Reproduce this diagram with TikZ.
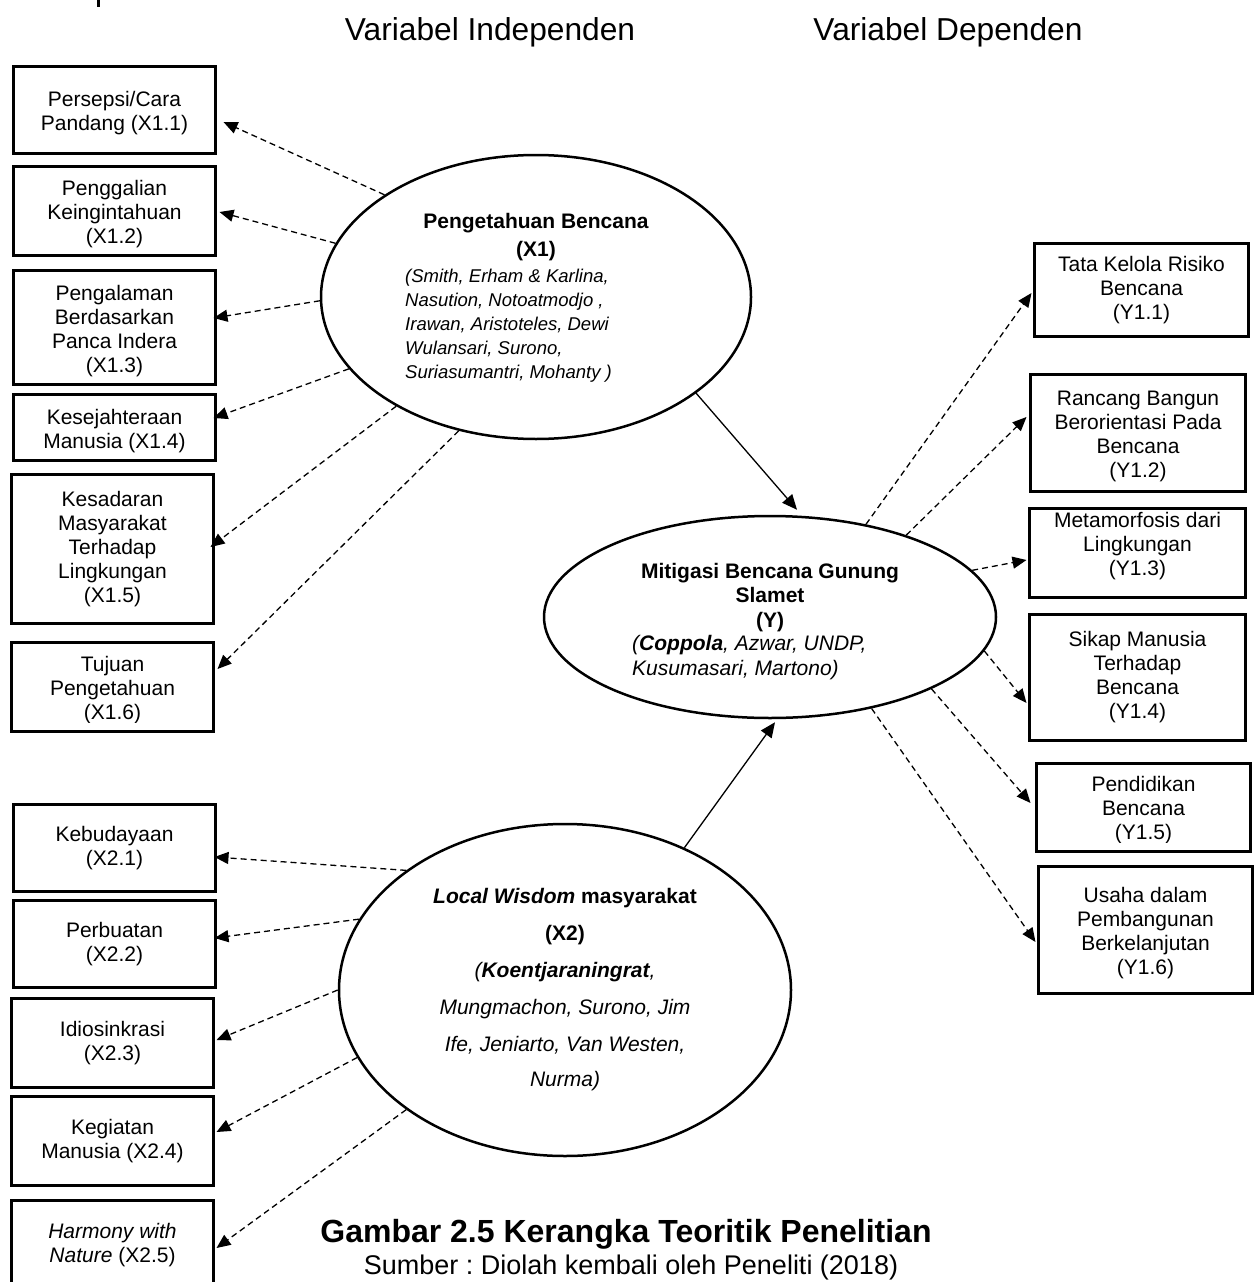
\documentclass[tikz,border=0pt]{standalone}
\usepackage{fontspec}
\setmainfont{Liberation Sans}
\usetikzlibrary{arrows.meta,shapes.geometric}
\frenchspacing
% taller first line, so box text sits a little lower in its frame
\newcommand\boxlift{\rule{0pt}{22pt}}

\begin{document}
\begin{tikzpicture}[x=1pt,y=-1pt,
  box/.style={draw, line width=3pt, inner sep=0pt, align=center,
    font=\fontsize{21}{24}\selectfont},
  boxtext/.style={inner sep=0pt, align=center, font=\fontsize{21}{24}\selectfont},
  latent/.style={draw, ellipse, line width=2.5pt, inner sep=0pt},
  ltitle/.style={inner sep=0pt, anchor=base, font=\fontsize{21}{24}\selectfont\bfseries},
  lref/.style={inner sep=0pt, anchor=base west, font=\fontsize{21}{24}\selectfont\itshape},
  lrefc/.style={inner sep=0pt, anchor=base, font=\fontsize{21}{24}\selectfont\itshape},
  heading/.style={inner sep=0pt, anchor=base, font=\fontsize{31.7}{36}\selectfont},
  link/.style={line width=1.3pt, dash pattern=on 6pt off 4pt,
    -{Triangle[length=14pt,width=12pt]}},
  causal/.style={line width=1.3pt, -{Triangle[length=15pt,width=13pt]}}]

\useasboundingbox (0,0) rectangle (1257,1282);

% stroke of a letter from a line above the frame
\fill (96.5,0) rectangle (99.5,7);

% column headings
\node[heading] (hind) at (490,40) {Variabel Independen};
\node[heading] (hdep) at (948,40) {Variabel Dependen};

% ---------- latent variables ----------
\node[latent, minimum width=430pt, minimum height=284pt] (x1) at (536,297) {};
\node[latent, minimum width=452pt, minimum height=202pt] (y) at (770,617) {};
\node[latent, minimum width=452pt, minimum height=332pt] (x2) at (565,990) {};

% text of X1
\node[ltitle] (x1a) at (536,228) {Pengetahuan Bencana};
\node[ltitle] (x1b) at (536,256) {(X1)};
\begin{scope}[every node/.style={lref, font=\fontsize{18.5}{24}\selectfont\itshape}]
\node (x1c) at (405,282) {(Smith, Erham \& Karlina,};
\node (x1d) at (405,306) {Nasution, Notoatmodjo ,};
\node (x1e) at (405,330) {Irawan, Aristoteles, Dewi};
\node (x1f) at (405,354) {Wulansari, Surono,};
\node (x1g) at (405,378) {Suriasumantri, Mohanty )};
\end{scope}

% text of Y
\node[ltitle] (ya) at (770,578) {Mitigasi Bencana Gunung};
\node[ltitle] (yb) at (770,602) {Slamet};
\node[ltitle] (yc) at (770,627) {(Y)};
\node[lref] (yd) at (632,650) {(\textbf{Coppola}, Azwar, UNDP,};
\node[lref] (ye) at (632,675) {Kusumasari, Martono)};

% text of X2
\node[ltitle] (x2a) at (565,903) {\textit{Local Wisdom} masyarakat};
\node[ltitle] (x2b) at (565,940.5) {(X2)};
\node[lrefc] (x2c) at (565,977.5) {(\textbf{Koentjaraningrat},};
\node[lrefc] (x2d) at (565,1014.3) {Mungmachon, Surono, Jim};
\node[lrefc] (x2e) at (565,1051) {Ife, Jeniarto, Van Westen,};
\node[lrefc] (x2f) at (565,1086.7) {Nurma)};

% ---------- indicators of X1 ----------
\node[box, minimum width=202pt, minimum height=87pt] (x11) at (114.5,110) {\boxlift Persepsi/Cara\\Pandang (X1.1)};
\node[box, minimum width=202pt, minimum height=89pt] (x12) at (114.5,211) {\boxlift Penggalian\\Keingintahuan\\(X1.2)};
\node[box, minimum width=202pt, minimum height=114pt] (x13) at (114.5,327.5) {\boxlift Pengalaman\\Berdasarkan\\Panca Indera\\(X1.3)};
\node[box, minimum width=202pt, minimum height=66pt] (x14) at (114.5,427.5) {\boxlift Kesejahteraan\\Manusia (X1.4)};
\node[box, minimum width=202pt, minimum height=149pt] (x15) at (112.5,549) {Kesadaran\\Masyarakat\\Terhadap\\Lingkungan\\(X1.5)};
\node[box, minimum width=202pt, minimum height=89pt] (x16) at (112.5,687) {};
\begin{scope}
  \clip (x16.north west) rectangle ([yshift=11pt]x16.south east);
  \node[boxtext] (x16t) at (112.5,690) {Tujuan\\Pengetahuan\\(X1.6)};
\end{scope}

% ---------- indicators of X2 ----------
\node[box, minimum width=202pt, minimum height=87pt] (x21) at (114.5,848) {Kebudayaan\\(X2.1)};
\node[box, minimum width=202pt, minimum height=87pt] (x22) at (114.5,944) {Perbuatan\\(X2.2)};
\node[box, minimum width=202pt, minimum height=89pt] (x23) at (112.5,1043) {Idiosinkrasi\\(X2.3)};
\node[box, minimum width=202pt, minimum height=89pt] (x24) at (112.5,1141) {Kegiatan\\Manusia (X2.4)};
\node[box, minimum width=202pt, minimum height=89.5pt] (x25) at (112.5,1245) {\textit{Harmony with}\\\textit{Nature} (X2.5)};

% ---------- indicators of Y ----------
\node[box, minimum width=214pt, minimum height=93pt] (y11) at (1141.5,290) {Tata Kelola Risiko\\Bencana\\(Y1.1)};
\node[box, minimum width=215pt, minimum height=117pt] (y12) at (1138,433) {\boxlift Rancang Bangun\\Berorientasi Pada\\Bencana\\(Y1.2)};
\node[box, minimum width=216pt, minimum height=89pt] (y13) at (1137.5,553) {};
\begin{scope}
  \clip (y13.north west) rectangle ([yshift=11pt]y13.south east);
  \node[boxtext] (y13t) at (1137.5,546) {Metamorfosis dari\\Lingkungan\\(Y1.3)};
\end{scope}
\node[box, minimum width=216pt, minimum height=126pt] (y14) at (1137.5,677.5) {Sikap Manusia\\Terhadap\\Bencana\\(Y1.4)};
\node[box, minimum width=214pt, minimum height=88pt] (y15) at (1143.5,807.5) {};
\begin{scope}
  \clip (y15.north west) rectangle ([yshift=11pt]y15.south east);
  \node[boxtext] (y15t) at (1143.5,810) {Pendidikan\\Bencana\\(Y1.5)};
\end{scope}
\node[box, minimum width=214pt, minimum height=127pt] (y16) at (1145.5,930) {\boxlift Usaha dalam\\Pembangunan\\Berkelanjutan\\(Y1.6)};

% ---------- connectors ----------
\draw[link] (x1.146.3) -- ([xshift=6.5pt,yshift=-12pt]x11.east);
\draw[link] (x1.165.4) -- ([xshift=2.5pt,yshift=-1pt]x12.east);
\draw[link] (x1.181.6) -- ([xshift=-3.5pt,yshift=9.5pt]x13.east);
\draw[link] (x1.201.8) -- ([xshift=-3.5pt,yshift=9.5pt]x14.east);
\draw[link] (x1.218) -- ([xshift=-4.5pt,yshift=2pt]x15.east);
\draw[link] (x1.240.4) -- ([xshift=2.5pt,yshift=18pt]x16.east);

\draw[link] (x2.143.9) -- ([xshift=-2.5pt,yshift=-9pt]x21.east);
\draw[link] (x2.161.7) -- ([xshift=-2.5pt,yshift=6pt]x22.east);
\draw[link] (x2.180.5) -- ([xshift=1.5pt,yshift=3pt]x23.east);
\draw[link] (x2.198.9) -- ([xshift=1.5pt,yshift=9pt]x24.east);
\draw[link] (x2.217.3) -- ([xshift=1.5pt,yshift=-3pt]x25.east);

\draw[link] (y.44.1) -- ([xshift=-1.5pt,yshift=-3pt]y11.west);
\draw[link] (y.31) -- ([xshift=-2.5pt,yshift=16pt]y12.west);
\draw[link] (y.13.1) -- ([xshift=-1.5pt,yshift=-7pt]y13.west);
\draw[link] (y.351.4) -- ([xshift=-1.5pt,yshift=-25.5pt]y14.west);
\draw[link] (y.336.1) -- ([xshift=-4.5pt,yshift=4.5pt]y15.west);
\draw[link] (y.318) -- ([xshift=-1.5pt,yshift=-12pt]y16.west);

\draw[causal] (x1.329.2) -- ([xshift=27pt,yshift=5pt]y.north);
\draw[causal] (x2.50.8) -- ([xshift=5pt,yshift=-3pt]y.south);

% ---------- caption ----------
\node[inner sep=0pt, anchor=base, font=\fontsize{32}{36}\selectfont\bfseries] (cap) at (626,1242) {Gambar 2.5 Kerangka Teoritik Penelitian};
\node[inner sep=0pt, anchor=base, font=\fontsize{27}{30}\selectfont] (src) at (631,1274) {Sumber : Diolah kembali oleh Peneliti (2018)};

\end{tikzpicture}
\end{document}
